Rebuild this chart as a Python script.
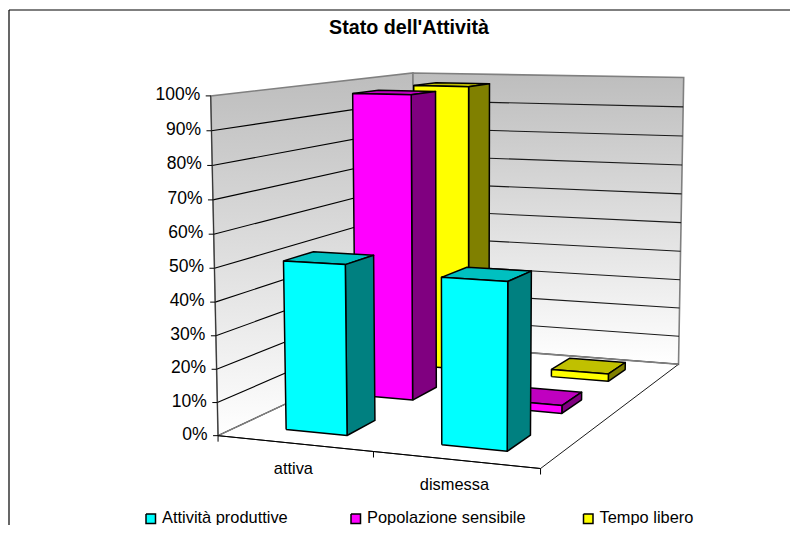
import numpy as np, pandas as pd, altair as alt

# ---- data ----
categories = ["attiva", "dismessa"]
series = ["Tempo libero", "Popolazione sensibile", "Attività produttive"]  # back to front
values_attiva = [97.5, 97.5, 51]
values_dismessa = [2.5, 2.5, 49]
value_ticks = [0, 10, 20, 30, 40, 50, 60, 70, 80, 90, 100]
legend_order = ["Attività produttive", "Popolazione sensibile", "Tempo libero"]
title_text = "Stato dell'Attività"

FRONT = {"Attività produttive": "#00ffff", "Popolazione sensibile": "#ff00ff", "Tempo libero": "#ffff00"}
SIDE = {"Attività produttive": "#008080", "Popolazione sensibile": "#800080", "Tempo libero": "#808000"}
TOP = {"Attività produttive": "#00c0c0", "Popolazione sensibile": "#c000c0", "Tempo libero": "#c0c000"}

# ---- perspective camera calibrated on the chart box corners ----
calib = [((0,0,0),(218.3,435.7)),((1,0,0),(540.3,468.7)),((1,1,0),(678.7,364)),((0,1,0),(414,344)),
         ((0,0,1),(210.7,95.7)),((0,1,1),(413,73)),((1,1,1),(683.7,77.7))]
A, b = [], []
for (X,Y,Z),(x,y) in calib:
    A.append([X,Y,Z,1,0,0,0,0,-x*X,-x*Y,-x*Z]); b.append(x)
    A.append([0,0,0,0,X,Y,Z,1,-y*X,-y*Y,-y*Z]); b.append(y)
P = np.append(np.linalg.lstsq(np.array(A), np.array(b), rcond=None)[0], 1).reshape(3,4)
def proj(u, v, h):
    q = P @ np.array([u, v, h, 1.0])
    return float(q[0]/q[2]), float(q[1]/q[2])

rows = []
pid = [0]
def poly(points, fill, stroke="#000000", close=True):
    pts = list(points) + ([points[0]] if close else [])
    for i, (x, y) in enumerate(pts):
        rows.append(dict(poly=pid[0], i=i, px=x, py=y, fill=fill, stroke=stroke))
    pid[0] += 1

def box(u0, u1, v0, v1, h, s):
    poly([proj(u0,v0,h),proj(u1,v0,h),proj(u1,v1,h),proj(u0,v1,h)], TOP[s])
    poly([proj(u1,v0,0),proj(u1,v1,0),proj(u1,v1,h),proj(u1,v0,h)], SIDE[s])
    poly([proj(u0,v0,0),proj(u1,v0,0),proj(u1,v0,h),proj(u0,v0,h)], FRONT[s])

for k, s in enumerate(series):
    v0 = (2-k)/3 + 0.095
    v1 = v0 + 0.135
    for c, vals in enumerate([values_attiva, values_dismessa]):
        box(c*0.5+0.152, c*0.5+0.352, v0, v1, vals[k]/100, s)
bars = pd.DataFrame(rows)

X = alt.X("px:Q", scale=alt.Scale(domain=[8,790], nice=False, zero=False), axis=None)
Y = alt.Y("py:Q", scale=alt.Scale(domain=[525,8], nice=False, zero=False), axis=None)

def wall(points):
    pts = list(points)+[points[0]]
    return pd.DataFrame([dict(i=i, px=x, py=y) for i,(x,y) in enumerate(pts)])

gradient = alt.Gradient(gradient="linear", x1=0, y1=0, x2=0, y2=1,
                        stops=[alt.GradientStop(color="#bdbdbd", offset=0),
                               alt.GradientStop(color="#ffffff", offset=1)])
def wall_layer(points):
    return alt.Chart(wall(points)).mark_line(fill=gradient, stroke="#808080", strokeWidth=1.6, interpolate="linear").encode(X, Y, order="i:Q")

left_wall = wall_layer([proj(0,0,0),proj(0,1,0),proj(0,1,1),proj(0,0,1)])
back_wall = wall_layer([proj(0,1,0),proj(1,1,0),proj(1,1,1),proj(0,1,1)])

def seg_df(segs):
    out = []
    for n,(p,q,c,w) in enumerate(segs):
        for i,(x,y) in enumerate((p,q)):
            out.append(dict(seg=n,i=i,px=x,py=y,c=c,w=w))
    return pd.DataFrame(out)

def seg_layer(segs):
    return alt.Chart(seg_df(segs)).mark_line(interpolate="linear").encode(
        X, Y, detail="seg:N", order="i:Q",
        stroke=alt.Stroke("c:N", scale=None), strokeWidth=alt.StrokeWidth("w:Q", scale=None))

floor_df = wall([proj(0,0,0),proj(1,0,0),proj(1,1,0),proj(0,1,0)])
floor = alt.Chart(floor_df).mark_line(fill="#ffffff", stroke="#000000", strokeWidth=0.9, interpolate="linear").encode(X, Y, order="i:Q")

grid_segs = []
for t in value_ticks[1:-1]:
    h = t/100
    grid_segs.append((proj(0,0,h), proj(0,1,h), "#000000", 1.1))
    grid_segs.append((proj(0,1,h), proj(1,1,h), "#1a1a1a", 1.1))
floor_edges = [(proj(0,0,0),proj(0,1,0),"#808080",1.4),(proj(0,1,0),proj(1,1,0),"#808080",1.6)]
axis_segs = [(proj(0,0,0),proj(0,0,1),"#333333",1.0),(proj(0,0,0),proj(1,0,0),"#000000",1.0)]
for t in value_ticks:
    x,y = proj(0,0,t/100)
    axis_segs.append(((x-5,y),(x,y),"#000000",1.0))
for u in (0,0.5,1):
    x,y = proj(u,0,0)
    axis_segs.append(((x,y),(x,y+6),"#000000",1.0))
axis_segs.append(((9,10),(790,10),"#000000",1.2))
axis_segs.append(((9,10),(9,525),"#000000",1.2))

tick_df = pd.DataFrame([dict(px=proj(0,0,t/100)[0]-10.5, py=proj(0,0,t/100)[1]-1, t=f"{t}%") for t in value_ticks])
tick_text = alt.Chart(tick_df).mark_text(font="Liberation Sans", fontSize=17.5, align="right", baseline="middle", color="#000000").encode(X, Y, text="t:N")

cat_df = pd.DataFrame([dict(px=proj(0.25+c*0.5,0,0)[0]-1, py=proj(0.25+c*0.5,0,0)[1]+25.5, t=n) for c,n in enumerate(categories)])
cat_text = alt.Chart(cat_df).mark_text(font="Liberation Sans", fontSize=16.4, align="center", baseline="middle", color="#000000").encode(X, Y, text="t:N")

title_df = pd.DataFrame([dict(px=409, py=28, t=title_text)])
title = alt.Chart(title_df).mark_text(font="Liberation Sans", fontSize=19.7, fontWeight="bold", align="center", baseline="middle", color="#000000").encode(X, Y, text="t:N")

leg_x = [146, 351, 583.5]
leg_rows = []
for s, x0 in zip(legend_order, leg_x):
    for i,(x,y) in enumerate([(x0,514),(x0+9.5,514),(x0+9.5,523.5),(x0,523.5),(x0,514)]):
        leg_rows.append(dict(poly=s, i=i, px=x, py=y, fill=FRONT[s]))
leg_keys = alt.Chart(pd.DataFrame(leg_rows)).mark_line(stroke="#000000", strokeWidth=1.5, interpolate="linear").encode(
    X, Y, detail="poly:N", order="i:Q", fill=alt.Fill("fill:N", scale=None))
leg_txt = pd.DataFrame([dict(px=x0+16, py=522.5, t=s) for s,x0 in zip(legend_order, leg_x)])
leg_text = alt.Chart(leg_txt).mark_text(font="Liberation Sans", fontSize=16.4, align="left", baseline="alphabetic", color="#000000").encode(X, Y, text="t:N")

bar_layer = alt.Chart(bars).mark_line(strokeWidth=1.5, strokeJoin="round", interpolate="linear").encode(
    X, Y, detail="poly:N", order="i:Q",
    fill=alt.Fill("fill:N", scale=None), stroke=alt.Stroke("stroke:N", scale=None))

chart = alt.layer(
    left_wall, back_wall, floor, seg_layer(floor_edges), seg_layer(grid_segs), seg_layer(axis_segs),
    bar_layer, tick_text, cat_text, title, leg_keys, leg_text
).properties(width=782, height=517, padding=0, background="#ffffff", autosize=alt.AutoSizeParams(type="none")
).configure_view(stroke=None)

chart.save("out.html", embed_options={"renderer": "svg", "actions": False})
